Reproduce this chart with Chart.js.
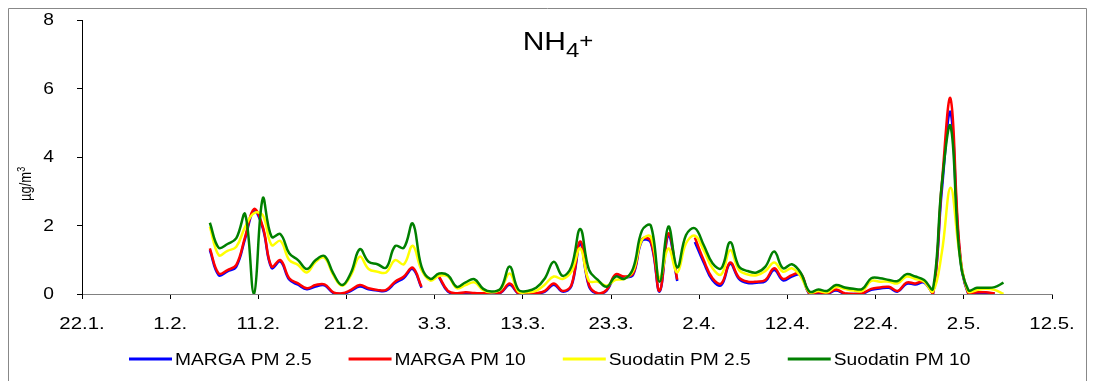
<!DOCTYPE html>
<html>
<head>
<meta charset="utf-8">
<script src="https://cdn.jsdelivr.net/npm/chart.js@4.4.0/dist/chart.umd.min.js"></script>
<style>
  html, body { margin: 0; padding: 0; background: #fff; }
  #wrap { width: 1094px; height: 381px; position: relative; }
</style>
</head>
<body>
<div id="wrap"><canvas id="chart"></canvas></div>
<script>
// x-akselin merkinnät (10 päivän välein alkaen 22.1.)
const tickLabels = ['22.1.', '1.2.', '11.2.', '21.2.', '3.3.', '13.3.', '23.3.', '2.4.', '12.4.', '22.4.', '2.5.', '12.5.'];
const seriesNames = ['MARGA PM 2.5', 'MARGA PM 10', 'Suodatin PM 2.5', 'Suodatin PM 10'];

// vuorokausikeskiarvot alkaen 5.2. (päivä 14.5 akselilla), µg/m3
const startDay = 14.5;

const margaPM25 = [
  1.28, 0.55, 0.66, 0.80, 1.62, 2.42, 1.92, 0.76, 0.95, 0.42,
  0.27, 0.14, 0.22, 0.25, 0.03, 0.00, 0.09, 0.22, 0.14, 0.10,
  0.10, 0.32, 0.47, 0.73, 0.18, null, 0.48, 0.07, 0.01, 0.03,
  0.02, 0.01, 0.03, 0.04, 0.27, 0.01, 0.00, 0.01, 0.07, 0.27,
  0.07, 0.23, 1.45, 0.22, 0.01, 0.10, 0.52, 0.48, 0.56, 1.55,
  1.50, 0.07, 1.70, 0.38, null, 1.52, 0.92, 0.40, 0.26, 0.88,
  0.44, 0.32, 0.33, 0.37, 0.70, 0.40, 0.51, 0.56, 0.00, 0.03,
  0.01, 0.10, 0.01, 0.00, 0.01, 0.12, 0.16, 0.18, 0.07, 0.30,
  0.28, 0.33, 0.00, 3.00, 5.30, 1.30, 0.01, 0.03, 0.03, 0.01,
  null
];
const margaPM10 = [
  1.33, 0.60, 0.70, 0.85, 1.67, 2.48, 1.97, 0.80, 0.99, 0.46,
  0.31, 0.17, 0.26, 0.28, 0.05, 0.02, 0.12, 0.26, 0.17, 0.12,
  0.12, 0.36, 0.51, 0.77, 0.21, null, 0.51, 0.09, 0.02, 0.05,
  0.03, 0.02, 0.05, 0.05, 0.31, 0.02, 0.01, 0.02, 0.09, 0.31,
  0.09, 0.26, 1.53, 0.26, 0.02, 0.12, 0.57, 0.51, 0.60, 1.60,
  1.55, 0.09, 1.77, 0.42, null, 1.65, 0.99, 0.46, 0.31, 0.92,
  0.48, 0.36, 0.36, 0.41, 0.75, 0.44, 0.55, 0.60, 0.01, 0.05,
  0.02, 0.13, 0.02, 0.00, 0.02, 0.15, 0.19, 0.21, 0.09, 0.33,
  0.31, 0.36, 0.00, 3.20, 5.70, 1.40, 0.02, 0.05, 0.05, 0.02,
  null
];
const suodatinPM25 = [
  1.97, 1.14, 1.26, 1.38, 1.96, 2.36, 2.30, 1.43, 1.55, 0.99,
  0.85, 0.63, 0.94, 1.06, 0.55, 0.24, 0.55, 1.09, 0.73, 0.65,
  0.63, 0.99, 0.87, 1.41, 0.70, 0.39, 0.53, 0.51, 0.17, 0.26,
  0.34, 0.11, 0.05, 0.15, 0.60, 0.07, 0.05, 0.09, 0.28, 0.51,
  0.44, 0.65, 1.33, 0.38, 0.36, 0.24, 0.41, 0.44, 0.67, 1.58,
  1.67, 0.46, 1.33, 0.63, 1.48, 1.70, 1.28, 0.75, 0.57, 1.28,
  0.70, 0.57, 0.55, 0.67, 0.92, 0.65, 0.75, 0.51, 0.05, 0.09,
  0.05, 0.21, 0.15, 0.10, 0.09, 0.38, 0.36, 0.36, 0.31, 0.51,
  0.44, 0.36, 0.07, 1.20, 3.10, 1.20, 0.07, 0.12, 0.15, 0.12,
  0.00
];
const suodatinPM10 = [
  2.08, 1.35, 1.46, 1.63, 2.33, 0.00, 2.79, 1.67, 1.75, 1.19,
  0.99, 0.73, 0.99, 1.11, 0.60, 0.26, 0.62, 1.31, 0.94, 0.87,
  0.77, 1.40, 1.35, 2.06, 0.80, 0.44, 0.60, 0.55, 0.21, 0.34,
  0.43, 0.15, 0.07, 0.17, 0.80, 0.12, 0.09, 0.18, 0.46, 0.94,
  0.53, 0.80, 1.90, 0.70, 0.41, 0.21, 0.51, 0.44, 0.75, 1.85,
  2.00, 0.36, 1.97, 0.78, 1.72, 1.92, 1.43, 0.90, 0.75, 1.51,
  0.80, 0.67, 0.63, 0.80, 1.24, 0.75, 0.87, 0.62, 0.07, 0.13,
  0.09, 0.26, 0.19, 0.15, 0.15, 0.46, 0.46, 0.41, 0.38, 0.58,
  0.51, 0.41, 0.15, 3.20, 4.90, 1.20, 0.12, 0.18, 0.18, 0.20,
  0.33
];

const colors = ['#0000ff', '#ff0000', '#ffff00', '#008000'];

function toPoints(arr) {
  return arr.map((v, i) => ({ x: startDay + i, y: v }));
}

// kuvan teksti on venynyt vaakasuunnassa, joten piirretään tekstit itse
const SX = 1.2;
const FONT = '"Liberation Sans", Arial, sans-serif';

function stretchText(ctx, text, x, y, align, size) {
  ctx.save();
  ctx.font = size + 'px ' + FONT;
  const w = ctx.measureText(text).width * SX;
  let x0 = x;
  if (align === 'center') x0 = x - w / 2;
  if (align === 'right') x0 = x - w;
  ctx.translate(x0, y);
  ctx.scale(SX, 1);
  ctx.textAlign = 'left';
  ctx.fillText(text, 0, 0);
  ctx.restore();
  return w;
}

const textPlugin = {
  id: 'texts',
  afterDraw(chart) {
    const ctx = chart.ctx;
    ctx.save();
    ctx.fillStyle = '#000';

    // kehys
    ctx.strokeStyle = '#888';
    ctx.lineWidth = 1;
    ctx.beginPath();
    ctx.moveTo(8.5, 381);
    ctx.lineTo(8.5, 8.5);
    ctx.lineTo(1086.5, 8.5);
    ctx.lineTo(1086.5, 381);
    ctx.stroke();

    // y-akselin numerot
    const ys = chart.scales.y;
    ctx.textBaseline = 'middle';
    ys.ticks.forEach(t => {
      stretchText(ctx, String(t.value), 54, ys.getPixelForValue(t.value) + 1, 'right', 16);
    });

    // x-akselin päivämäärät
    const xs = chart.scales.x;
    ctx.textBaseline = 'alphabetic';
    xs.ticks.forEach(t => {
      const lbl = tickLabels[Math.round(t.value / 10)];
      stretchText(ctx, lbl, xs.getPixelForValue(t.value), 329, 'center', 17);
    });

    // otsikko NH4+
    ctx.font = '25px ' + FONT;
    const wNH = ctx.measureText('NH').width * SX;
    ctx.font = '20px ' + FONT;
    const w4 = ctx.measureText('4').width * SX;
    const wPlus = ctx.measureText('+').width * SX;
    let tx = 558 - (wNH + w4 + wPlus) / 2;
    tx += stretchText(ctx, 'NH', tx, 50, 'left', 25);
    tx += stretchText(ctx, '4', tx, 57, 'left', 20);
    stretchText(ctx, '+', tx, 48, 'left', 20);

    // y-akselin yksikkö µg/m3
    ctx.save();
    ctx.translate(31, 201);
    ctx.scale(SX, 1);
    ctx.rotate(-Math.PI / 2);
    ctx.textAlign = 'left';
    ctx.font = '13px ' + FONT;
    const wu = ctx.measureText('µg/m').width;
    ctx.fillText('µg/m', 0, 0);
    ctx.font = '9px ' + FONT;
    ctx.fillText('3', wu, -5);
    ctx.restore();

    // selite
    let lx = 129;
    seriesNames.forEach((name, i) => {
      ctx.strokeStyle = colors[i];
      ctx.lineWidth = 3;
      ctx.beginPath();
      ctx.moveTo(lx, 359);
      ctx.lineTo(lx + 43, 359);
      ctx.stroke();
      const w = stretchText(ctx, name, lx + 46, 365, 'left', 16);
      lx = lx + 46 + w + 37;
    });

    ctx.restore();
  }
};

const datasets = [margaPM25, margaPM10, suodatinPM25, suodatinPM10].map((arr, i) => ({
  label: seriesNames[i],
  data: toPoints(arr),
  borderColor: colors[i],
  backgroundColor: colors[i],
  borderWidth: 2.5,
  pointRadius: 0,
  tension: 0.4,
  spanGaps: false,
  order: 4 - i // vihreä päällimmäisenä kuten alkuperäisessä
}));

new Chart(document.getElementById('chart'), {
  type: 'line',
  data: { datasets: datasets },
  options: {
    responsive: true,
    maintainAspectRatio: false,
    animation: false,
    events: [],
    layout: { padding: { top: 20, right: 42, left: 0, bottom: 0 } },
    plugins: {
      legend: { display: false },
      title: { display: false },
      tooltip: { enabled: false }
    },
    scales: {
      x: {
        type: 'linear',
        min: 0,
        max: 110,
        ticks: { stepSize: 10, display: false },
        grid: { drawOnChartArea: false, drawTicks: true, tickLength: 5, color: '#000' },
        border: { display: true, color: '#808080', width: 1 },
        afterFit(scale) { scale.height = 87; }
      },
      y: {
        min: 0,
        max: 8,
        ticks: { stepSize: 2, display: false },
        grid: { drawOnChartArea: false, drawTicks: true, tickLength: 5, color: '#000' },
        border: { display: true, color: '#000', width: 1 },
        afterFit(scale) { scale.width = 82; }
      }
    }
  },
  plugins: [textPlugin]
});
</script>
</body>
</html>
